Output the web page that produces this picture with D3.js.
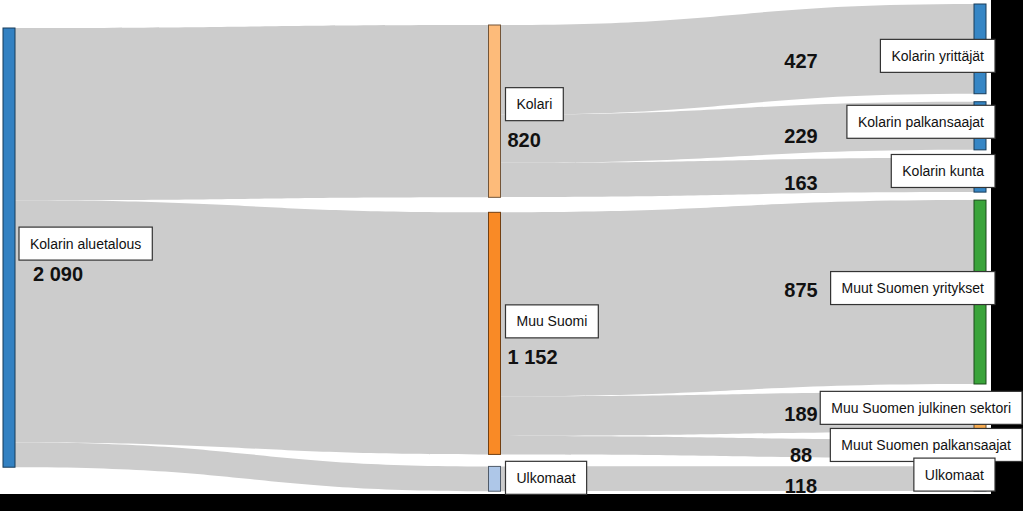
<!DOCTYPE html>
<html><head><meta charset="utf-8">
<script src="https://cdn.jsdelivr.net/npm/d3@7"></script>
<style>html,body{margin:0;padding:0;background:#000;} svg{display:block}</style>
</head><body><svg id="c" width="1023" height="511"></svg>
<script>
// ---------- data ----------
const nodeNames = ["Kolarin aluetalous","Kolari","Muu Suomi","Ulkomaat",
  "Kolarin yrittäjät","Kolarin palkansaajat","Kolarin kunta",
  "Muut Suomen yritykset","Muu Suomen julkinen sektori","Muut Suomen palkansaajat","Ulkomaat"];
const nodeColumns = [0,1,1,1,2,2,2,2,2,2,2];
const linkSources = [0,0,0,1,1,1,2,2,2,3];
const linkTargets = [1,2,3,4,5,6,7,8,9,10];
const linkValues  = [820,1152,118,427,229,163,875,189,88,118];

// ---------- style ----------
const nodeColors = ["#3381c2","#fdbb7a","#f98a26","#aec7e8","#3686c5","#3686c5","#3686c5",
  "#3aa43a","#f5aa50","#f5aa50","#aec7e8"];
const linkColor = "#cccccc";
const FONT = "'Liberation Sans', Arial, sans-serif";

// ---------- layout ----------
const W = 1023, H = 511, plotW = 991, plotH = 494;
const svg = d3.select("#c");
svg.append("rect").attr("width", plotW).attr("height", plotH).attr("fill", "#fff");

const nodes = nodeNames.map((name, i) => ({i, name, col: nodeColumns[i], src: [], tgt: []}));
const links = linkValues.map((v, i) => ({source: nodes[linkSources[i]], target: nodes[linkTargets[i]], value: v}));
links.forEach(l => { l.source.src.push(l); l.target.tgt.push(l); });
nodes.forEach(n => n.value = Math.max(d3.sum(n.src, l => l.value), d3.sum(n.tgt, l => l.value)));

const colTop = [28, 25, 4];
const colPad = [[], [15, 12], [8, 8, 8, 8, 8, 8]];
const colBottom = 491;
const nodeW = 12;
const x = d3.scaleLinear().domain([0, 2]).range([3, 974]);
const rightTotal = d3.sum(nodes.filter(n => n.col === 2), n => n.value);
const ky = (colBottom - colTop[2] - d3.sum(colPad[2])) / rightTotal;
const h = d3.scaleLinear().domain([0, rightTotal]).range([0, rightTotal * ky]);

[0, 1, 2].forEach(c => {
  let y = colTop[c];
  nodes.filter(n => n.col === c).forEach((n, k) => {
    n.x0 = x(c); n.x1 = n.x0 + nodeW;
    n.y0 = y; n.y1 = y + h(n.value);
    y = n.y1 + (colPad[c][k] || 0);
  });
});
nodes.forEach(n => {
  let y = n.y0;
  n.src.sort((a, b) => a.target.y0 - b.target.y0).forEach(l => { l.sy0 = y; y += h(l.value); l.sy1 = y; });
  y = n.y0;
  n.tgt.sort((a, b) => a.source.y0 - b.source.y0).forEach(l => { l.ty0 = y; y += h(l.value); l.ty1 = y; });
});

function linkPath(l) {
  const x0 = l.source.x1, x1 = l.target.x0, xm = (x0 + x1) / 2;
  return `M${x0},${l.sy0}C${xm},${l.sy0} ${xm},${l.ty0} ${x1},${l.ty0}` +
         `L${x1},${l.ty1}C${xm},${l.ty1} ${xm},${l.sy1} ${x0},${l.sy1}Z`;
}

svg.append("g").selectAll("path").data(links).join("path")
  .attr("d", linkPath).attr("fill", linkColor);

svg.append("g").selectAll("rect").data(nodes).join("rect")
  .attr("x", d => d.x0).attr("y", d => d.y0)
  .attr("width", d => d.x1 - d.x0).attr("height", d => d.y1 - d.y0)
  .attr("fill", d => nodeColors[d.i])
  .attr("stroke", d => d3.rgb(nodeColors[d.i]).darker(2.2))
  .attr("stroke-width", 1);

// ---------- labels ----------
const fmt = d3.formatLocale({decimal: ",", thousands: " ", grouping: [3], currency: ["", " €"]}).format(",d");

// value labels for links into the last column
function centerAt(l, xv) {
  const x0 = l.source.x1, x1 = l.target.x0, xm = (x0 + x1) / 2;
  const bx = t => x0*(1-t)**3 + 3*xm*(1-t)**2*t + 3*xm*(1-t)*t*t + x1*t**3;
  let lo = 0, hi = 1;
  for (let i = 0; i < 40; i++) { const m = (lo + hi) / 2; if (bx(m) < xv) lo = m; else hi = m; }
  const t = (lo + hi) / 2, s = 3*t*t - 2*t**3;
  const top = l.sy0 + (l.ty0 - l.sy0) * s, bot = l.sy1 + (l.ty1 - l.sy1) * s;
  return (top + bot) / 2;
}
const valueNudge = {7: -12, 8: -6};
const labelNudge = {4: 11, 1: -3, 2: -8, 3: 3};
const valRight = {};
const gv = svg.append("g");
nodes.filter(n => n.col === 2).forEach(n => {
  const l = n.tgt[0];
  const xv = n.x0 - 173;
  const y = centerAt(l, xv) + 14 + (valueNudge[n.i] || 0);
  const t = gv.append("text").attr("x", xv).attr("y", y)
    .attr("text-anchor", "middle").attr("font-family", FONT)
    .attr("font-weight", "bold").attr("font-size", 20).attr("fill", "#111")
    .text(fmt(l.value));
  valRight[n.i] = xv + t.node().getComputedTextLength() / 2;
});

const gl = svg.append("g");
const boxH = 33;
nodes.forEach(n => {
  const g = gl.append("g");
  const rect = g.append("rect");
  const txt = g.append("text").attr("font-family", FONT).attr("font-size", 14).attr("fill", "#111").text(n.name);
  const tw = txt.node().getComputedTextLength();
  const bw = tw + 22;
  const cy = (n.y0 + n.y1) / 2 - 4 + (labelNudge[n.i] || 0);
  let bx;
  if (n.col === 2) {
    let right = n.x1 + 9;
    if (right - bw < valRight[n.i] + 4) right = W - 1;
    bx = right - bw;
  } else {
    bx = n.x1 + (n.col === 0 ? 4 : 5);
  }
  const by = cy - boxH / 2;
  rect.attr("x", bx).attr("y", by).attr("width", bw).attr("height", boxH)
    .attr("fill", "#fff").attr("stroke", "#333").attr("stroke-width", 1.2);
  txt.attr("x", bx + 11).attr("y", cy + 5);
  if (n.col < 2) {
    gl.append("text").attr("x", bx + (n.col === 0 ? 14 : 2))
      .attr("y", by + boxH + (n.col === 0 ? 21 : 26))
      .attr("font-family", FONT).attr("font-weight", "bold").attr("font-size", 20).attr("fill", "#111")
      .text(n.col === 0 || n.src.length ? fmt(n.value) : "")
      .style("display", n.i === 3 ? "none" : null);
  }
});
</script></body></html>
